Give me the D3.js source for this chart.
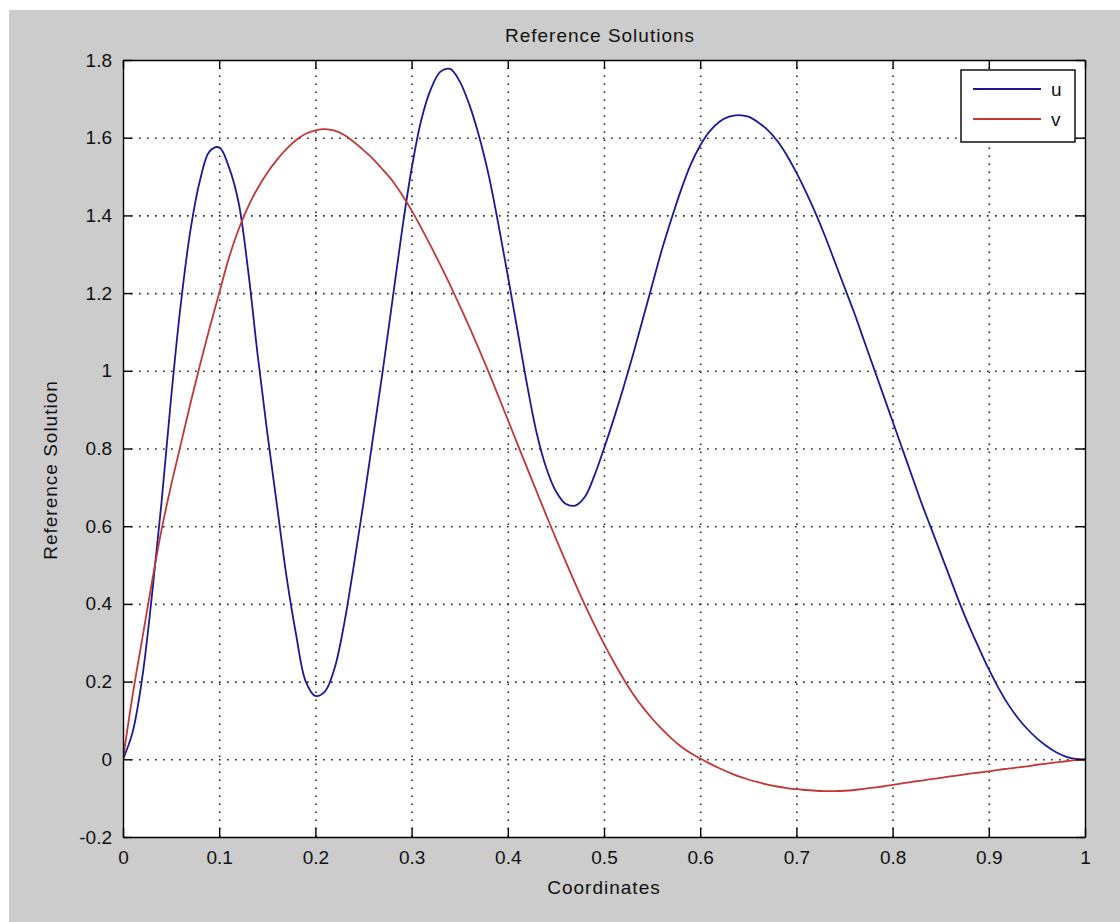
<!DOCTYPE html>
<html>
<head>
<meta charset="utf-8">
<script src="https://cdn.jsdelivr.net/npm/d3@7/dist/d3.min.js"></script>
<style>
  html, body { margin: 0; padding: 0; background: #ffffff; }
  svg { display: block; }
  text { font-family: "Liberation Sans", Arial, sans-serif; fill: #111; }
</style>
</head>
<body>
<svg id="chart" width="1120" height="922"></svg>
<script>
// Reference solutions u(x) and v(x), sampled every 0.01 on [0, 1]
const coords = d3.range(0, 101).map(i => i / 100);
const uVals = [
  0, 0.07, 0.21, 0.42, 0.66, 0.93, 1.17, 1.36, 1.49, 1.565,
  1.575, 1.525, 1.435, 1.26, 1.04, 0.84, 0.655, 0.47, 0.32, 0.2,
  0.163, 0.175, 0.235, 0.35, 0.5, 0.66, 0.83, 1.0, 1.18, 1.36,
  1.52, 1.645, 1.725, 1.77, 1.777, 1.745, 1.685, 1.605, 1.505, 1.38,
  1.245, 1.105, 0.965, 0.84, 0.75, 0.69, 0.658, 0.653, 0.675, 0.73,
  0.80, 0.875, 0.955, 1.04, 1.13, 1.22, 1.31, 1.39, 1.465, 1.53,
  1.58, 1.617, 1.641, 1.654, 1.658, 1.654, 1.64, 1.62, 1.592, 1.555,
  1.51, 1.46, 1.405, 1.345, 1.28, 1.215, 1.15, 1.08, 1.01, 0.94,
  0.87, 0.80, 0.73, 0.66, 0.595, 0.53, 0.465, 0.40, 0.34, 0.285,
  0.232, 0.184, 0.142, 0.107, 0.078, 0.054, 0.034, 0.018, 0.007, 0.001,
  0];
const vVals = [
  0, 0.165, 0.31, 0.455, 0.59, 0.705, 0.81, 0.915, 1.015, 1.11,
  1.2, 1.29, 1.363, 1.422, 1.47, 1.51, 1.543, 1.571, 1.594, 1.61,
  1.619, 1.622, 1.618, 1.607, 1.589, 1.568, 1.545, 1.518, 1.489, 1.453,
  1.413, 1.368, 1.321, 1.272, 1.221, 1.168, 1.113, 1.056, 0.997, 0.936,
  0.874, 0.812, 0.75, 0.689, 0.628, 0.568, 0.51, 0.453, 0.398, 0.346,
  0.297, 0.251, 0.208, 0.169, 0.135, 0.105, 0.078, 0.054, 0.033, 0.016,
  0.002, -0.011, -0.023, -0.034, -0.044, -0.052, -0.059, -0.065, -0.07, -0.074,
  -0.077, -0.079, -0.081, -0.082, -0.082, -0.081, -0.079, -0.076, -0.073, -0.07,
  -0.066, -0.062, -0.058, -0.055, -0.051, -0.048, -0.044, -0.041, -0.037, -0.034,
  -0.031, -0.027, -0.024, -0.021, -0.018, -0.014, -0.011, -0.008, -0.005, -0.002,
  0];

const xTicks = [0, 0.1, 0.2, 0.3, 0.4, 0.5, 0.6, 0.7, 0.8, 0.9, 1];
const xTickLabels = ["0", "0.1", "0.2", "0.3", "0.4", "0.5", "0.6", "0.7", "0.8", "0.9", "1"];
const yTicks = [-0.2, 0, 0.2, 0.4, 0.6, 0.8, 1, 1.2, 1.4, 1.6, 1.8];
const yTickLabels = ["-0.2", "0", "0.2", "0.4", "0.6", "0.8", "1", "1.2", "1.4", "1.6", "1.8"];

const seriesNames = ["u", "v"];
const seriesColors = ["#1a1a96", "#c23838"];

const svg = d3.select("#chart");
const W = 1120, H = 922;
const plot = { left: 123, top: 60, right: 1085, bottom: 837 };

// figure background
svg.append("rect").attr("x", 9).attr("y", 10).attr("width", W - 9).attr("height", H - 10).attr("fill", "#cccccc");

const x = d3.scaleLinear().domain([0, 1]).range([plot.left, plot.right]);
const y = d3.scaleLinear().domain([-0.2, 1.8]).range([plot.bottom, plot.top]);
const pw = plot.right - plot.left, ph = plot.bottom - plot.top;

// axes area
svg.append("rect").attr("x", plot.left).attr("y", plot.top).attr("width", pw).attr("height", ph).attr("fill", "#ffffff");

// dotted grid
const gridX = svg.append("g").attr("transform", `translate(0,${plot.bottom})`)
  .call(d3.axisBottom(x).tickValues(xTicks.slice(1, -1)).tickSize(-ph).tickFormat(""));
const gridY = svg.append("g").attr("transform", `translate(${plot.left},0)`)
  .call(d3.axisLeft(y).tickValues(yTicks.slice(1, -1)).tickSize(-pw).tickFormat(""));
[gridX, gridY].forEach(g => {
  g.select(".domain").remove();
  g.selectAll(".tick line").attr("stroke", "#222").attr("stroke-width", 1.6).attr("stroke-dasharray", "1.6,6.4");
});

// curves
svg.append("clipPath").attr("id", "plotClip").append("rect")
  .attr("x", plot.left).attr("y", plot.top - 2).attr("width", pw + 1).attr("height", ph + 2);
const line = d3.line().x(d => x(d[0])).y(d => y(d[1])).curve(d3.curveCatmullRom.alpha(0.5));
const series = [d3.zip(coords, uVals), d3.zip(coords, vVals)];
series.forEach((pts, i) => {
  svg.append("path").datum(pts).attr("clip-path", "url(#plotClip)")
    .attr("d", line).attr("fill", "none")
    .attr("stroke", seriesColors[i]).attr("stroke-width", 1.8).attr("stroke-linejoin", "round");
});

// ticks on all four sides, pointing inward
const tickLen = 9;
const fmtX = (d, i) => xTickLabels[i];
const fmtY = (d, i) => yTickLabels[i];
const axB = svg.append("g").attr("transform", `translate(0,${plot.bottom})`)
  .call(d3.axisBottom(x).tickValues(xTicks).tickSizeInner(-tickLen).tickSizeOuter(0).tickPadding(9).tickFormat(fmtX));
const axT = svg.append("g").attr("transform", `translate(0,${plot.top})`)
  .call(d3.axisTop(x).tickValues(xTicks).tickSizeInner(-tickLen).tickSizeOuter(0).tickFormat(""));
const axL = svg.append("g").attr("transform", `translate(${plot.left},0)`)
  .call(d3.axisLeft(y).tickValues(yTicks).tickSizeInner(-tickLen).tickSizeOuter(0).tickPadding(11).tickFormat(fmtY));
const axR = svg.append("g").attr("transform", `translate(${plot.right},0)`)
  .call(d3.axisRight(y).tickValues(yTicks).tickSizeInner(-tickLen).tickSizeOuter(0).tickFormat(""));
[axB, axT, axL, axR].forEach(g => {
  g.select(".domain").attr("stroke", "#000").attr("stroke-width", 1.4);
  g.selectAll(".tick line").attr("stroke", "#000").attr("stroke-width", 1.4);
  g.selectAll(".tick text").attr("font-size", 19).attr("fill", "#111")
    .attr("font-family", "'Liberation Sans', Arial, sans-serif");
});
axB.selectAll(".tick text").attr("dy", "0.95em");

// titles
svg.append("text").attr("x", 600).attr("y", 42).attr("text-anchor", "middle")
  .attr("font-size", 19).attr("letter-spacing", 1).text("Reference Solutions");
svg.append("text").attr("x", 604).attr("y", 894).attr("text-anchor", "middle")
  .attr("font-size", 19).attr("letter-spacing", 1).text("Coordinates");
svg.append("text").attr("transform", "translate(57,470) rotate(-90)").attr("text-anchor", "middle")
  .attr("font-size", 19).attr("letter-spacing", 1).text("Reference Solution");

// legend
const lg = svg.append("g");
lg.append("rect").attr("x", 961).attr("y", 70).attr("width", 114).attr("height", 72)
  .attr("fill", "#ffffff").attr("stroke", "#000").attr("stroke-width", 1.4);
const legY = d3.scalePoint().domain(seriesNames).range([89, 119]);
seriesNames.forEach((name, i) => {
  lg.append("line").attr("x1", 973).attr("x2", 1041).attr("y1", legY(name)).attr("y2", legY(name))
    .attr("stroke", seriesColors[i]).attr("stroke-width", 1.8);
  lg.append("text").attr("x", 1051).attr("y", legY(name)).attr("dy", "0.35em")
    .attr("font-size", 19).text(name);
});
</script>
</body>
</html>
